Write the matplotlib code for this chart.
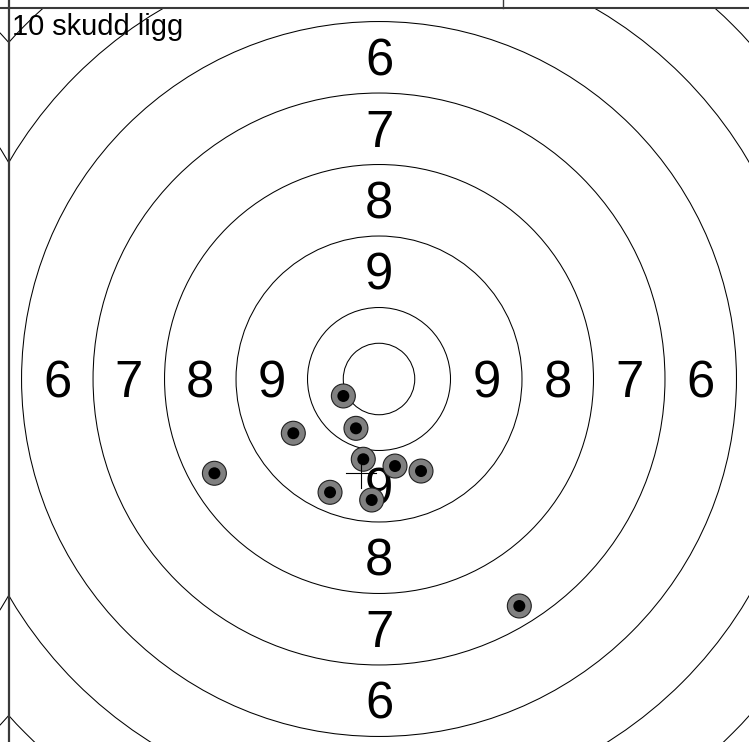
import matplotlib
matplotlib.use('Agg')
import matplotlib.pyplot as plt
from matplotlib.patches import Circle, Rectangle
from matplotlib.transforms import offset_copy

# target geometry (mm), ring width and ring circles in ring units
RING = 8.0
ring_circles = [0.5, 1, 2, 3, 4, 5, 6, 7]
ring_labels = [9, 8, 7, 6]
label_pos = [1.5, 2.5, 3.5, 4.5]

# shot holes (mm from centre)
shot_x = [-3.99, -9.59, -2.58, -1.76, 1.79, 4.70, -5.48, -0.82, -18.42, 15.70]
shot_y = [-1.90, -6.07, -5.52, -8.98, -9.74, -10.30, -12.68, -13.54, -10.55, -25.40]
title = "10 skudd ligg"

card_left = -41.43
card_top = 41.51
card_w = 82.87

fig = plt.figure(figsize=(7.49, 7.42), dpi=100)
ax = fig.add_axes([0, 0, 1, 1])
ax.set_xlim(-42.41, 41.40)
ax.set_ylim(-40.62, 42.41)
ax.set_aspect('equal')
ax.axis('off')

# own card and the neighbour card to the left
own = Rectangle((card_left, card_top - card_w), card_w, card_w, transform=ax.transData)
left = Rectangle((card_left - card_w, card_top - card_w), card_w, card_w, transform=ax.transData)
for cx, clip in [(0, own), (-card_w, left)]:
    for r in ring_circles:
        c = Circle((cx, 0), r * RING, fill=False, ec='black', lw=0.75, zorder=1)
        ax.add_patch(c)
        c.set_clip_path(clip)

# ring numbers
fs = 36.5
tr = offset_copy(ax.transData, fig=fig, y=-0.358 * fs, units='points')
for lab, p in zip(ring_labels, label_pos):
    d = p * RING
    for x, y in [(0, d), (0, -d), (-d, 0), (d, 0)]:
        ax.text(x, y, str(lab), ha='center', va='baseline', fontsize=fs,
                family='Liberation Sans', transform=tr, zorder=2)

# shots
for x, y in zip(shot_x, shot_y):
    ax.add_patch(Circle((x, y), 1.34, fc='#808080', ec='#202020', lw=0.8, zorder=3))
    ax.add_patch(Circle((x, y), 0.67, fc='black', ec='none', zorder=4))

# mean point of impact
mx = sum(shot_x) / len(shot_x)
my = sum(shot_y) / len(shot_y)
h = 1.7
ax.plot([mx - h, mx + h], [my, my], c='black', lw=0.8, zorder=5)
ax.plot([mx, mx], [my - h, my + h], c='black', lw=0.8, zorder=5)

# card borders
ax.axvline(card_left, c='#3a3a3a', lw=1.6, zorder=6)
ax.axhline(card_top, c='#3a3a3a', lw=1.5, zorder=6)
ax.plot([13.87, 13.87], [card_top, 42.41], c='#3a3a3a', lw=1.0, zorder=6)

ax.text(card_left + 0.4, card_top - 3.0, title, fontsize=20.9,
        family='Liberation Sans', ha='left', va='baseline', zorder=7)

fig.savefig('out.png', dpi=100)
